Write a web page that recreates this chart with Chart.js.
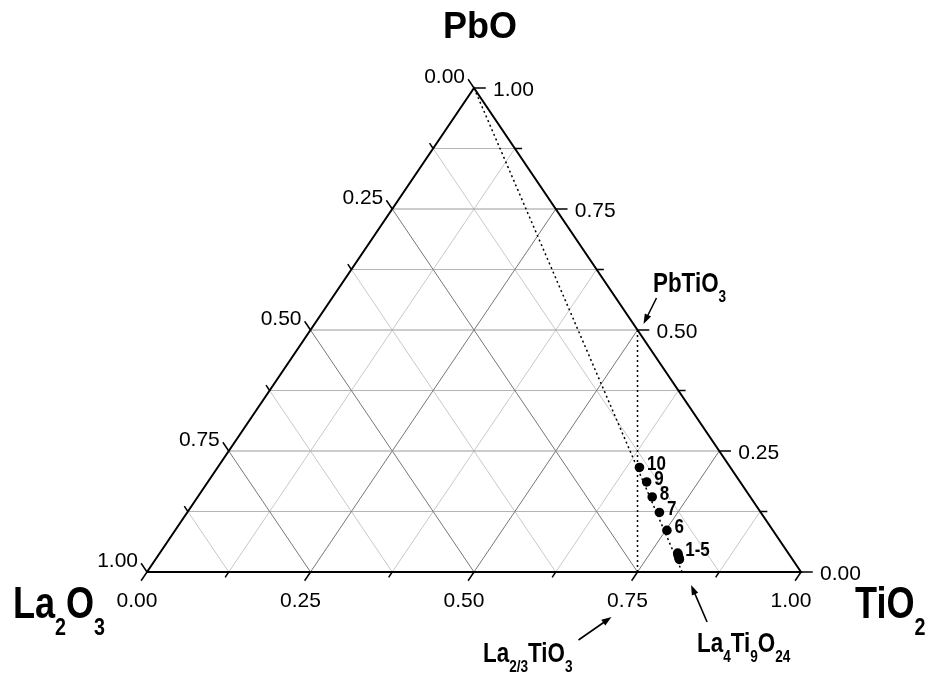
<!DOCTYPE html>
<html>
<head>
<meta charset="utf-8">
<script src="https://cdn.jsdelivr.net/npm/chart.js@4/dist/chart.umd.min.js"></script>
<style>html,body{margin:0;padding:0;background:#fff;overflow:hidden}</style>
</head>
<body>
<canvas id="c" width="937" height="681"></canvas>
<script>
// ---- data (ternary fractions) ----
const sampleNames = ['1','2','3','4','5','6','7','8','9','10'];
const samplePbO  = [0.026, 0.029, 0.033, 0.036, 0.039, 0.086, 0.123, 0.155, 0.186, 0.216];
const sampleTiO2 = [0.801, 0.799, 0.796, 0.794, 0.792, 0.752, 0.722, 0.695, 0.671, 0.645];
const sampleTags = ['', '', '', '', '1-5', '6', '7', '8', '9', '10'];

const compoundNames = ['PbTiO3', 'La2/3TiO3', 'La4Ti9O24'];
const compoundPbO   = [0.5, 0, 0];
const compoundTiO2  = [0.5, 0.75, 9/11];

const majorTicks = [0, 0.25, 0.5, 0.75, 1];
const minorTicks = [0.125, 0.375, 0.625, 0.875];
const tickLabels = ['0.00', '0.25', '0.50', '0.75', '1.00'];
const axisTitles = ['PbO', 'La2O3', 'TiO2'];

// ternary -> cartesian (x in 0..1 across base, y = PbO fraction)
const tern = (p, t) => ({x: t + p / 2, y: p});

const datasets = [];
function seg(pts, color, width, dash, order) {
  datasets.push({data: pts, showLine: true, borderColor: color, borderWidth: width,
    borderDash: dash || [], pointRadius: 0, fill: false, clip: false, tension: 0, order: order});
}

// grid lines
const gridVals = majorTicks.slice(1, 4).concat(minorTicks);
gridVals.forEach(v => {
  const major = majorTicks.includes(v);
  const diag = major ? '#777777' : '#c8c8c8';
  const hor = major ? '#999999' : '#b4b4b4';
  seg([tern(v, 0), tern(v, 1 - v)], hor, 1, null, major ? 5 : 6);          // const PbO
  seg([tern(0, v), tern(1 - v, v)], diag, 1, null, major ? 5 : 6);         // const TiO2
  seg([tern(0, 1 - v), tern(1 - v, 0)], diag, 1, null, major ? 5 : 6);     // const La2O3
});

// ticks
const allTicks = majorTicks.concat(minorTicks);
allTicks.forEach(v => {
  const d = majorTicks.includes(v) ? 0.018 : 0.011;
  // left axis: La2O3 = v
  seg([tern(1 - v, 0), tern(1 - v + d, -d)], '#000', 1.5, null, 3);
  // bottom axis: TiO2 = v
  seg([tern(0, v), tern(-d, v)], '#000', 1.5, null, 3);
  // right axis: PbO = v
  seg([tern(v, 1 - v), tern(v, 1 - v + d)], '#000', 1.5, null, 3);
});

// triangle border
seg([tern(0, 0), tern(0, 1), tern(1, 0), tern(0, 0)], '#000', 2, null, 2);

// tie lines (dotted)
seg([tern(1, 0), tern(compoundPbO[2], compoundTiO2[2])], '#000', 1.5, [2, 3], 1);
seg([tern(compoundPbO[0], compoundTiO2[0]), tern(compoundPbO[1], compoundTiO2[1])], '#000', 1.5, [2, 3], 1);

// sample points
datasets.push({
  data: samplePbO.map((p, i) => tern(p, sampleTiO2[i])),
  showLine: false, pointRadius: 4.8, pointBackgroundColor: '#000', pointBorderColor: '#000',
  pointBorderWidth: 0, clip: false, order: 0
});

// ---- text helpers ----
const FONT = '"Liberation Sans", Arial, Helvetica, sans-serif';
function parseFormula(s) {
  const out = []; const re = /(\d[\d\/]*)|([^\d]+)/g; let m;
  while ((m = re.exec(s))) out.push(m[1] ? [m[1], true] : [m[2], false]);
  return out;
}
function rich(ctx, text, x, y, o) {
  const parts = parseFormula(text);
  const f = s => 'bold ' + (s ? o.sub : o.size) + 'px ' + FONT;
  let w = 0;
  parts.forEach(([t, s]) => { ctx.font = f(s); w += ctx.measureText(t).width * o.sx; });
  let cx = o.align === 'center' ? x - w / 2 : (o.align === 'right' ? x - w : x);
  parts.forEach(([t, s]) => {
    ctx.font = f(s);
    ctx.save();
    ctx.translate(cx, y + (s ? o.dy : 0));
    ctx.scale(o.sx, 1);
    ctx.textAlign = 'left'; ctx.textBaseline = 'alphabetic';
    ctx.fillText(t, 0, 0);
    ctx.restore();
    cx += ctx.measureText(t).width * o.sx;
  });
}
function arrow(ctx, x1, y1, x2, y2) {
  const a = Math.atan2(y2 - y1, x2 - x1), L = 10, W = 3.5;
  ctx.beginPath(); ctx.moveTo(x1, y1);
  ctx.lineTo(x2 - Math.cos(a) * L * 0.7, y2 - Math.sin(a) * L * 0.7);
  ctx.lineWidth = 1.6; ctx.strokeStyle = '#000'; ctx.stroke();
  ctx.beginPath();
  ctx.moveTo(x2, y2);
  ctx.lineTo(x2 - Math.cos(a) * L + Math.sin(a) * W, y2 - Math.sin(a) * L - Math.cos(a) * W);
  ctx.lineTo(x2 - Math.cos(a) * L - Math.sin(a) * W, y2 - Math.sin(a) * L + Math.cos(a) * W);
  ctx.closePath(); ctx.fillStyle = '#000'; ctx.fill();
}

// compound annotation layout (pixel offsets from the compound position)
const compoundLayout = [
  {lx: 15.5, ly: -38, ax: 19, ay: -32, tx: 6, ty: -6},
  {lx: -154.5, ly: 90, ax: -59, ay: 68, tx: -26, ty: 45},
  {lx: 15, ly: 80, ax: 25, ay: 50, tx: 9, ty: 13}
];

const textPlugin = {
  id: 'ternaryText',
  afterDatasetsDraw(chart) {
    const ctx = chart.ctx, sx = chart.scales.x, sy = chart.scales.y;
    const P = (p, t) => { const c = tern(p, t); return [sx.getPixelForValue(c.x), sy.getPixelForValue(c.y)]; };
    ctx.save();
    ctx.fillStyle = '#000';
    ctx.font = '21px ' + FONT;
    ctx.textBaseline = 'alphabetic';
    majorTicks.forEach((v, i) => {
      // left axis (La2O3)
      let [x, y] = P(1 - v, 0);
      ctx.textAlign = 'right'; ctx.fillText(tickLabels[i], x - 9, y - 5);
      // bottom axis (TiO2)
      [x, y] = P(0, v);
      ctx.textAlign = 'center'; ctx.fillText(tickLabels[i], x - 10, y + 35);
      // right axis (PbO)
      [x, y] = P(v, 1 - v);
      ctx.textAlign = 'left'; ctx.fillText(tickLabels[i], x + 19, y + 7.5);
    });
    // axis titles
    let [x, y] = P(1, 0);
    rich(ctx, axisTitles[0], x + 6, y - 50, {size: 36, sub: 24, sx: 1, dy: 12, align: 'center'});
    [x, y] = P(0, 0);
    rich(ctx, axisTitles[1], x - 134, y + 46, {size: 44, sub: 24, sx: 0.82, dy: 17, align: 'left'});
    [x, y] = P(0, 1);
    rich(ctx, axisTitles[2], x + 54, y + 46, {size: 44, sub: 24, sx: 0.82, dy: 17, align: 'left'});
    // compounds
    compoundNames.forEach((n, i) => {
      const [cx, cy] = P(compoundPbO[i], compoundTiO2[i]);
      const L = compoundLayout[i];
      rich(ctx, n, cx + L.lx, cy + L.ly, {size: 28, sub: 17, sx: 0.8, dy: 10, align: 'left'});
      arrow(ctx, cx + L.ax, cy + L.ay, cx + L.tx, cy + L.ty);
    });
    // sample tags
    sampleTags.forEach((tag, i) => {
      if (!tag) return;
      const [px, py] = P(samplePbO[i], sampleTiO2[i]);
      ctx.save();
      ctx.font = 'bold 20px ' + FONT;
      ctx.translate(px + 7.5, py + 3); ctx.scale(0.85, 1);
      ctx.textAlign = 'left'; ctx.fillText(tag, 0, 0);
      ctx.restore();
    });
    ctx.restore();
  }
};

new Chart(document.getElementById('c'), {
  type: 'scatter',
  data: {datasets: datasets},
  options: {
    responsive: false, animation: false, devicePixelRatio: 1,
    layout: {padding: {left: 147, right: 136, top: 88, bottom: 109}},
    scales: {
      x: {type: 'linear', min: 0, max: 1, display: false},
      y: {type: 'linear', min: 0, max: 1, display: false}
    },
    plugins: {legend: {display: false}, tooltip: {enabled: false}}
  },
  plugins: [textPlugin]
});
</script>
</body>
</html>
